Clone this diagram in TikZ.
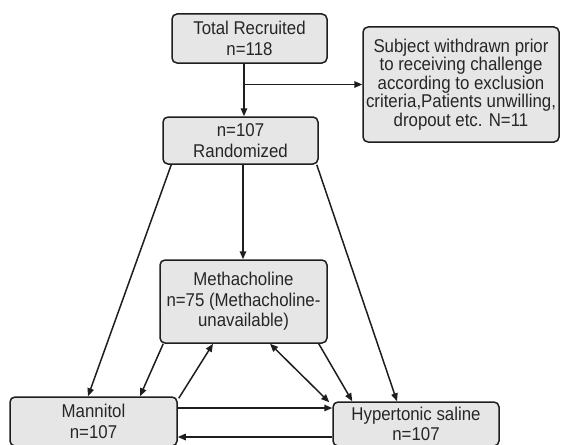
\documentclass[tikz,border=0pt]{standalone}
\usepackage{fontspec}
\setmainfont{Liberation Sans}[FakeStretch=0.91]
\usetikzlibrary{arrows.meta,calc}
\definecolor{boxfill}{HTML}{E6E6E6}
\definecolor{ink}{HTML}{1E1E1E}
\definecolor{txt}{HTML}{262626}
\begin{document}
\begin{tikzpicture}[x=1pt,y=-1pt,
  box/.style={draw=ink,fill=boxfill,line width=1.5pt,rounded corners=5pt,align=center,
    text=txt,inner sep=0pt,font=\fontsize{18.5}{20.3}\selectfont},
  arr/.style={draw=ink,line width=1.5pt,-{Triangle[length=8pt,width=6.5pt]}},
  darr/.style={draw=ink,line width=1.5pt,{Triangle[length=8pt,width=6.5pt]}-{Triangle[length=8pt,width=6.5pt]}}]
\useasboundingbox (0,0) rectangle (561,444);
\node[box,minimum width=155pt,minimum height=49pt] (tot) at (249.5,38.5) {Total Recruited\\n=118};
\node[box,minimum width=155pt,minimum height=47pt] (rand) at (240.5,140.5) {n=107\\Randomized};
\node[box,minimum width=196pt,minimum height=115pt,font=\fontsize{18.5}{18.4}\selectfont] (wd) at (461,84.5) {Subject withdrawn prior\\to receiving challenge\\according to exclusion\\criteria,Patients unwilling,\\dropout etc. N=11};
\node[box,minimum width=167pt,minimum height=83pt] (meth) at (243.5,301.5) {Methacholine\\n=75 (Methacholine-\\unavailable)};
\node[box,minimum width=167pt,minimum height=49pt] (mann) at (93.5,421.5) {Mannitol\\n=107};
\node[box,minimum width=166pt,minimum height=44pt] (hyp) at (416,424) {Hypertonic saline\\n=107};
% top
\coordinate (t1) at ($(tot.south)+(-5.5,0)$);
\draw[arr] (t1) -- (t1 |- rand.north);
\coordinate (br) at (t1 |- wd.west);
\draw[arr] (br) -- (wd.west);
% from randomized
\draw[arr] ($(rand.south)+(2.5,0)$) -- ($(meth.north)+(-0.5,0)$);
\draw[arr] ($(rand.south west)+(9,0)$) -- ($(mann.north)+(-5.5,0)$);
\draw[arr] ($(rand.south east)+(-2,0)$) -- ($(hyp.north)+(-19,0)$);
% triangle
\draw[arr] ($(meth.south west)+(4,0)$) -- ($(mann.north)+(46.5,0)$);
\draw[arr] ($(mann.north east)+(1,2)$) -- ($(meth.south)+(-30.5,0)$);
\draw[darr] ($(meth.south)+(26.5,0)$) -- ($(hyp.north west)+(-3,1)$);
\draw[arr] ($(meth.south east)+(-9,0)$) -- ($(hyp.north west)+(20,0)$);
\draw[arr] ($(mann.east)+(0,-13.5)$) -- ($(hyp.west)+(0,-16)$);
\draw[arr] ($(hyp.west)+(0,13)$) -- ($(mann.east)+(0,15.5)$);
\end{tikzpicture}
\end{document}
